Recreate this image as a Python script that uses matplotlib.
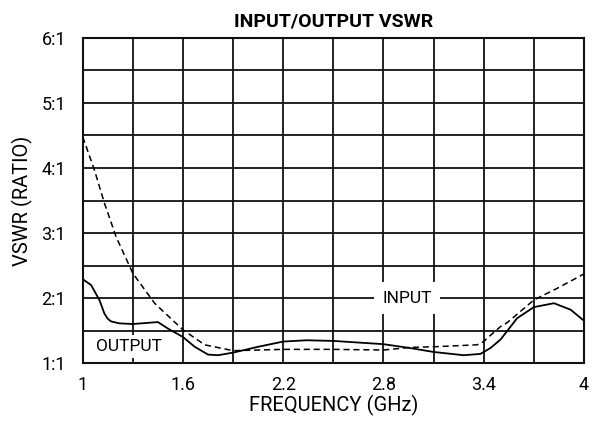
import matplotlib
matplotlib.use("Agg")
import matplotlib.pyplot as plt

plt.rcParams['font.family'] = ['Roboto', 'DejaVu Sans']

# Output VSWR (solid)
out_f = [1.00, 1.05, 1.10, 1.13, 1.15, 1.17, 1.22, 1.30, 1.40, 1.45, 1.51, 1.60, 1.67, 1.75,
         1.81, 1.90, 2.05, 2.20, 2.34, 2.50, 2.80, 2.96, 3.10, 3.28, 3.38, 3.44, 3.50, 3.60,
         3.70, 3.82, 3.92, 4.00]
out_v = [2.29, 2.20, 1.97, 1.76, 1.68, 1.64, 1.61, 1.60, 1.62, 1.63, 1.53, 1.40, 1.25, 1.13,
         1.12, 1.16, 1.25, 1.33, 1.35, 1.34, 1.29, 1.23, 1.17, 1.12, 1.14, 1.23, 1.36, 1.69,
         1.86, 1.92, 1.82, 1.65]

# Input VSWR (dashed)
in_f = [1.00, 1.07, 1.13, 1.20, 1.30, 1.43, 1.60, 1.73, 1.90, 2.05, 2.20, 2.50, 2.80, 2.96,
        3.10, 3.36, 3.40, 3.42, 3.50, 3.54, 3.70, 3.84, 4.00]
in_v = [4.48, 3.97, 3.46, 2.94, 2.38, 1.92, 1.51, 1.28, 1.19, 1.20, 1.21, 1.21, 1.20, 1.24,
        1.25, 1.28, 1.33, 1.38, 1.56, 1.62, 1.97, 2.15, 2.37]

x_ticks = [1, 1.6, 2.2, 2.8, 3.4, 4]
x_tick_labels = ['1', '1.6', '2.2', '2.8', '3.4', '4']
y_ticks = [1, 2, 3, 4, 5, 6]
y_tick_labels = ['1:1', '2:1', '3:1', '4:1', '5:1', '6:1']

fig = plt.figure(figsize=(5.92, 4.23), dpi=100)
ax = fig.add_axes([0.1397, 0.1418, 0.8468, 0.7684])
ax.set_xlim(1, 4)
ax.set_ylim(1, 6)

# grid
for i in range(1, 10):
    ax.axvline(1 + 0.3 * i, color='#111111', lw=1.3, zorder=1)
    ax.axhline(1 + 0.5 * i, color='#111111', lw=1.3, zorder=1)

ax.plot(out_f, out_v, color='black', lw=1.3, zorder=3, solid_joinstyle='round')
ax.plot(in_f, in_v, color='black', lw=1.1, ls=(0, (4, 2.5)), zorder=3)

ax.text(1.277, 1.25, 'OUTPUT', ha='center', va='center', fontsize=12.5, zorder=4,
        bbox=dict(facecolor='white', edgecolor='none', pad=3))
ax.text(2.94, 2.0, 'INPUT', ha='center', va='center', fontsize=12.5, zorder=4,
        bbox=dict(facecolor='white', edgecolor='none', pad=6))

ax.set_xticks(x_ticks)
ax.set_xticklabels(x_tick_labels)
ax.set_yticks(y_ticks)
ax.set_yticklabels(y_tick_labels)
ax.tick_params(length=0, labelsize=13, pad=9)
ax.tick_params(axis='y', pad=12)
for s in ax.spines.values():
    s.set_linewidth(1.5)
    s.set_color('#111111')

ax.set_xlabel('FREQUENCY (GHz)', fontsize=14.5, labelpad=1)
ax.set_ylabel('VSWR (RATIO)', fontsize=14.5, labelpad=6)
ax.set_title('INPUT/OUTPUT VSWR', fontsize=14, fontweight='bold', pad=8)

fig.savefig('out.png', dpi=100)
